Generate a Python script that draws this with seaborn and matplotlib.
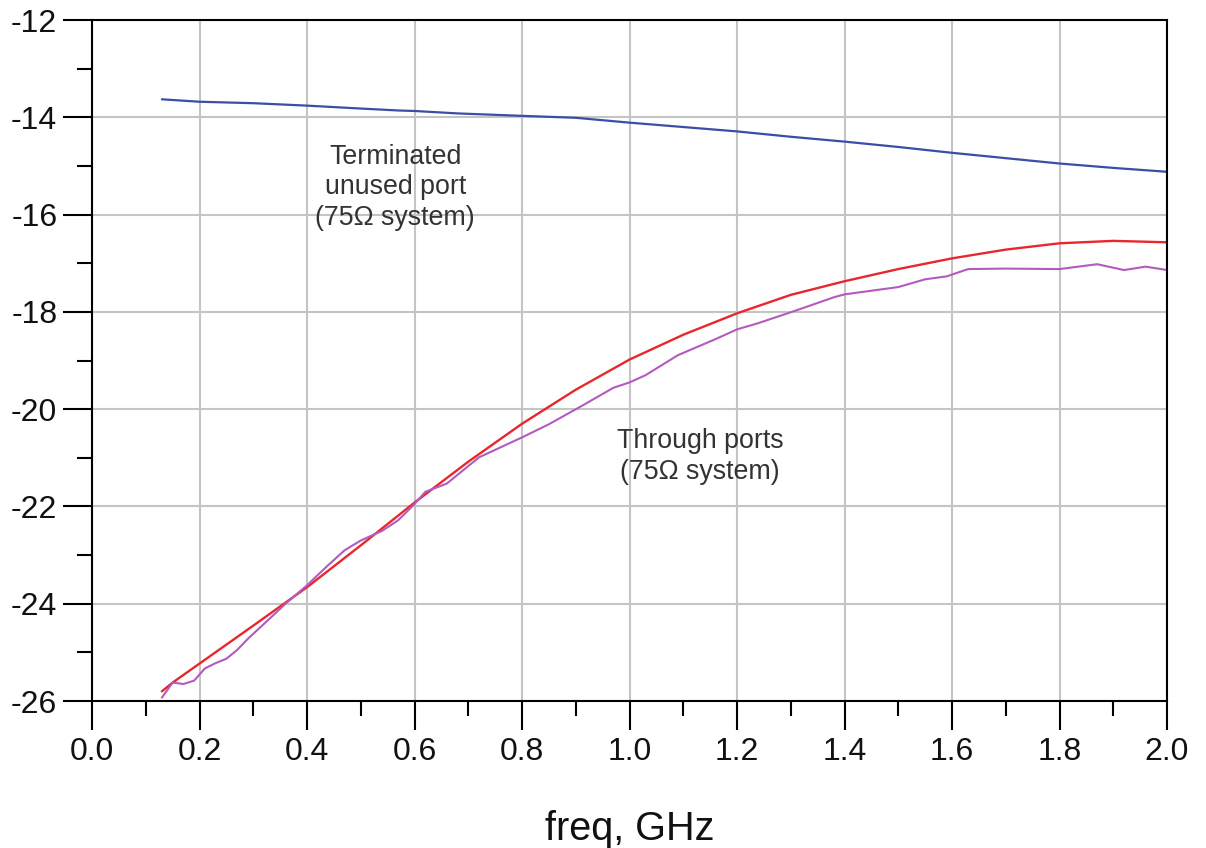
import numpy as np
import pandas as pd
import seaborn as sns
import matplotlib
matplotlib.use("Agg")
import matplotlib.pyplot as plt
from matplotlib.ticker import MultipleLocator, FormatStrFormatter

# terminated unused port (blue)
blue_x = [0.13, 0.2, 0.3, 0.4, 0.5, 0.57, 0.6, 0.68, 0.8, 0.9, 1.0, 1.1, 1.2,
          1.3, 1.4, 1.5, 1.6, 1.7, 1.8, 1.9, 2.0]
blue_y = [-13.63, -13.68, -13.71, -13.76, -13.82, -13.86, -13.87, -13.92, -13.97,
          -14.01, -14.11, -14.2, -14.29, -14.4, -14.5, -14.61, -14.73, -14.84,
          -14.95, -15.04, -15.12]

# through ports, red
red_x = [0.13, 0.15, 0.2, 0.3, 0.4, 0.5, 0.6, 0.7, 0.8, 0.9, 1.0, 1.1, 1.2, 1.3,
         1.4, 1.5, 1.6, 1.7, 1.8, 1.9, 2.0]
red_y = [-25.8, -25.62, -25.23, -24.45, -23.66, -22.8, -21.92, -21.08, -20.3,
         -19.6, -18.98, -18.47, -18.03, -17.65, -17.37, -17.12, -16.9, -16.72,
         -16.59, -16.54, -16.57]

# through ports, purple (measured)
purple_x = [0.13, 0.15, 0.17, 0.19, 0.21, 0.23, 0.25, 0.27, 0.29, 0.33, 0.36,
            0.4, 0.44, 0.47, 0.5, 0.54, 0.57, 0.6, 0.62, 0.66, 0.72, 0.8, 0.85,
            0.91, 0.97, 1.0, 1.03, 1.09, 1.16, 1.2, 1.24, 1.31, 1.38, 1.4, 1.5,
            1.55, 1.59, 1.63, 1.7, 1.8, 1.87, 1.92, 1.96, 2.0]
purple_y = [-25.93, -25.62, -25.65, -25.58, -25.33, -25.22, -25.13, -24.95, -24.72,
            -24.31, -24.0, -23.62, -23.2, -22.9, -22.7, -22.5, -22.28, -21.95,
            -21.7, -21.53, -20.99, -20.58, -20.31, -19.94, -19.56, -19.45, -19.3,
            -18.89, -18.56, -18.36, -18.23, -17.97, -17.7, -17.64, -17.49, -17.33,
            -17.27, -17.12, -17.11, -17.12, -17.02, -17.14, -17.07, -17.14]

sns.set_style("white", {"xtick.bottom": True, "ytick.left": True})
plt.rcParams['font.family'] = ['Liberation Sans', 'DejaVu Sans']

fig = plt.figure(figsize=(12.06, 8.48), dpi=100)
ax = fig.add_axes([0.0763, 0.1733, 0.8914, 0.8031])

sns.lineplot(x=blue_x, y=blue_y, ax=ax, color="#3b4da6", lw=1.6)
sns.lineplot(x=red_x, y=red_y, ax=ax, color="#e8262d", lw=1.7)
sns.lineplot(x=purple_x, y=purple_y, ax=ax, color="#b35abf", lw=1.5)

ax.set_xlim(0, 2.0)
ax.set_ylim(-26, -12)
ax.xaxis.set_major_locator(MultipleLocator(0.2))
ax.xaxis.set_minor_locator(MultipleLocator(0.1))
ax.yaxis.set_major_locator(MultipleLocator(2))
ax.yaxis.set_minor_locator(MultipleLocator(1))
ax.xaxis.set_major_formatter(FormatStrFormatter("%.1f"))
ax.yaxis.set_major_formatter(FormatStrFormatter("%d"))

ax.grid(True, which="major", color="#c4c4c4", lw=1.5)
ax.set_axisbelow(True)
for s in ax.spines.values():
    s.set_color("black")
    s.set_linewidth(1.5)

ax.tick_params(which="major", direction="out", length=21, width=1.5,
               labelsize=23, pad=4, color="black", labelcolor="#111111",
               bottom=True, left=True)
ax.tick_params(which="minor", direction="out", length=11, width=1.5,
               color="black", bottom=True, left=True)
ax.tick_params(axis="x", which="major", pad=5)

ax.set_xlabel("freq, GHz", fontsize=28.5, labelpad=31, color="#111111")
ax.set_ylabel("")

ax.text(0.564, -15.44, "Terminated\nunused port\n(75Ω system)", ha="center",
        va="center", fontsize=19.3, color="#333333", linespacing=1.24)
ax.text(1.131, -20.97, "Through ports\n(75Ω system)", ha="center",
        va="center", fontsize=19.3, color="#333333", linespacing=1.24)

fig.savefig("out.png", dpi=100)
